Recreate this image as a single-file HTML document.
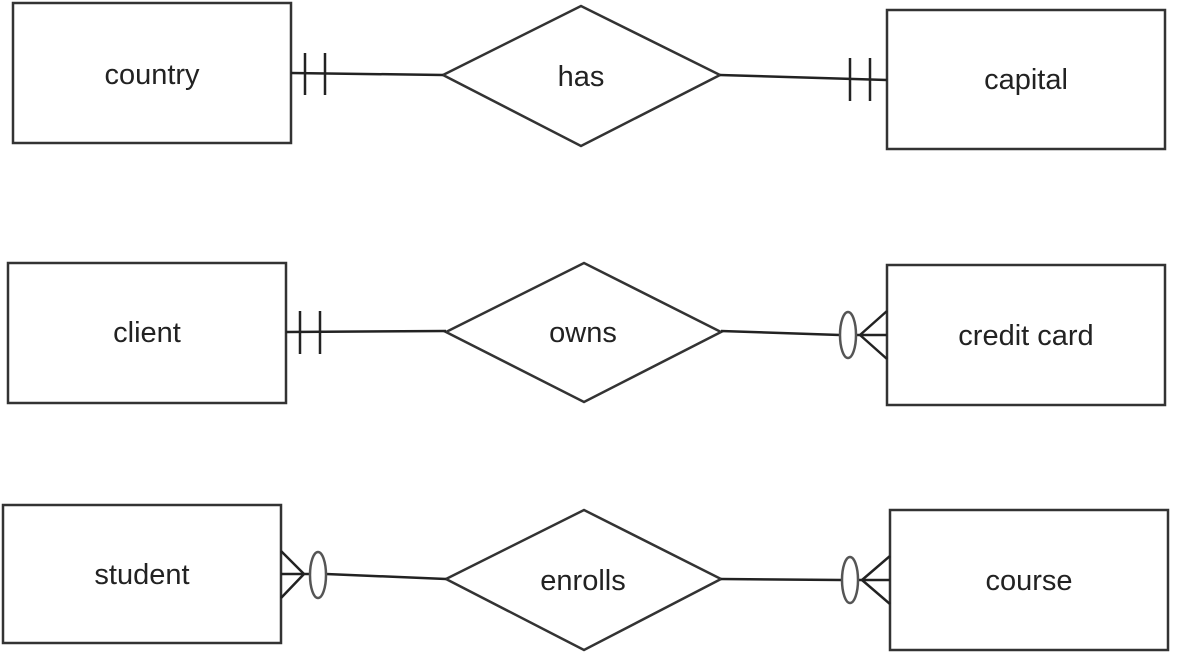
<!DOCTYPE html>
<html><head><meta charset="utf-8"><style>
html,body{margin:0;padding:0;background:#fff;}
svg{display:block;}
text{font-family:"Liberation Sans",Arial,sans-serif;font-size:29px;fill:#222;}
</style></head><body>
<svg width="1181" height="653" viewBox="0 0 1181 653" xmlns="http://www.w3.org/2000/svg">
<g fill="#fff" stroke="#333" stroke-width="2.5">
<rect x="13" y="3" width="278" height="140"/>
<rect x="887" y="10" width="278" height="139"/>
<rect x="8" y="263" width="278" height="140"/>
<rect x="887" y="265" width="278" height="140"/>
<rect x="3" y="505" width="278" height="138"/>
<rect x="890" y="510" width="278" height="140"/>
<polygon points="443,75 581,6 720,75 581,146"/>
<polygon points="446,332 584,263 721,332 584,402"/>
<polygon points="446,579 584,510 721,579 584,650"/>
</g>
<g stroke="#222" stroke-width="2.5" fill="none">
<!-- country - has -->
<line x1="291" y1="73" x2="443" y2="75"/>
<line x1="305" y1="53" x2="305" y2="95"/>
<line x1="325" y1="53" x2="325" y2="95"/>
<!-- has - capital -->
<line x1="720" y1="75" x2="887" y2="80"/>
<line x1="850" y1="58" x2="850" y2="101"/>
<line x1="870" y1="58" x2="870" y2="101"/>
<!-- client - owns -->
<line x1="286" y1="332" x2="446" y2="331"/>
<line x1="300" y1="311" x2="300" y2="354"/>
<line x1="320" y1="311" x2="320" y2="354"/>
<!-- owns - credit card -->
<line x1="721" y1="331" x2="840" y2="335"/>
<line x1="856" y1="335" x2="887" y2="335"/>
<line x1="860" y1="335" x2="887" y2="311"/>
<line x1="860" y1="335" x2="887" y2="359"/>
<!-- student - enrolls -->
<line x1="326" y1="574" x2="446" y2="579"/>
<line x1="281" y1="574" x2="310" y2="574"/>
<line x1="304" y1="574" x2="281" y2="551"/>
<line x1="304" y1="574" x2="281" y2="598"/>
<!-- enrolls - course -->
<line x1="721" y1="579" x2="842" y2="580"/>
<line x1="858" y1="580" x2="890" y2="580"/>
<line x1="862" y1="580" x2="890" y2="556"/>
<line x1="862" y1="580" x2="890" y2="604"/>
</g>
<g stroke="#555" stroke-width="2.5" fill="#fff">
<ellipse cx="848" cy="335" rx="8" ry="23"/>
<ellipse cx="318" cy="575" rx="8" ry="23"/>
<ellipse cx="850" cy="580" rx="8" ry="23"/>
</g>
<g text-anchor="middle">
<text x="152" y="84">country</text>
<text x="1026" y="89">capital</text>
<text x="147" y="342">client</text>
<text x="1026" y="345">credit card</text>
<text x="142" y="584">student</text>
<text x="1029" y="590">course</text>
<text x="581" y="86">has</text>
<text x="583" y="342">owns</text>
<text x="583" y="590">enrolls</text>
</g>
</svg>
</body></html>
